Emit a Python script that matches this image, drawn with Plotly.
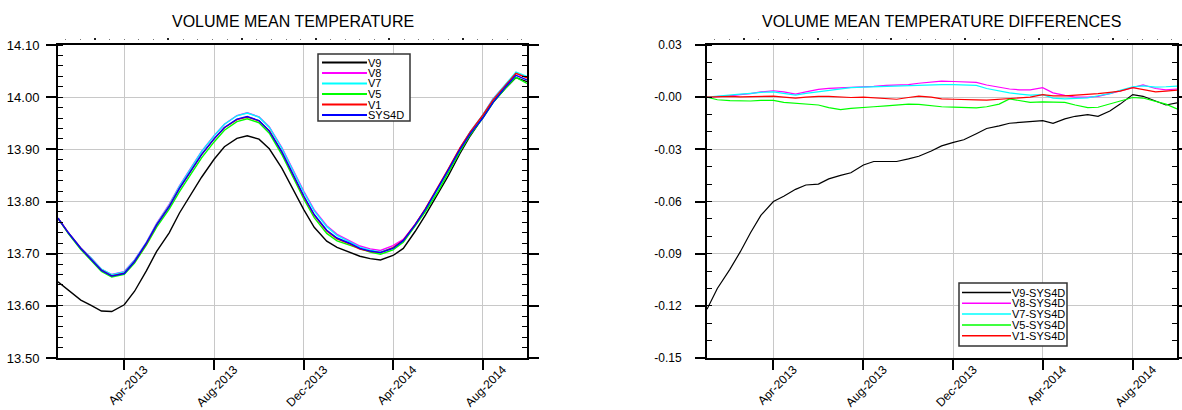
import plotly.graph_objects as go

# ---------------- data ----------------
dates = [
    "2013-01-01", "2013-01-15", "2013-02-01", "2013-02-15", "2013-03-01", "2013-03-15",
    "2013-04-01", "2013-04-15", "2013-05-01", "2013-05-15", "2013-06-01", "2013-06-15",
    "2013-07-01", "2013-07-15", "2013-08-01", "2013-08-15", "2013-09-01", "2013-09-15",
    "2013-10-01", "2013-10-15", "2013-11-01", "2013-11-15", "2013-12-01", "2013-12-15",
    "2014-01-01", "2014-01-15", "2014-02-01", "2014-02-15", "2014-03-01", "2014-03-15",
    "2014-04-01", "2014-04-15", "2014-05-01", "2014-05-15", "2014-06-01", "2014-06-15",
    "2014-07-01", "2014-07-15", "2014-08-01", "2014-08-15", "2014-09-01", "2014-09-15",
    "2014-09-30",
]

sys4d = [
    13.768, 13.740, 13.710, 13.690, 13.668, 13.657,
    13.662, 13.685, 13.720, 13.755, 13.790, 13.825,
    13.860, 13.890, 13.920, 13.942, 13.958, 13.963,
    13.955, 13.935, 13.895, 13.855, 13.810, 13.775,
    13.745, 13.730, 13.720, 13.710, 13.705, 13.702,
    13.710, 13.725, 13.755, 13.785, 13.825, 13.860,
    13.900, 13.930, 13.960, 13.990, 14.020, 14.042,
    14.033,
]

diff_v9 = [
    -0.122, -0.110, -0.099, -0.089, -0.078, -0.068,
    -0.060, -0.057, -0.053, -0.0505, -0.050, -0.047,
    -0.045, -0.0435, -0.039, -0.037, -0.037, -0.037,
    -0.0355, -0.034, -0.031, -0.028, -0.026, -0.0245,
    -0.021, -0.018, -0.0165, -0.015, -0.0145, -0.014,
    -0.0135, -0.015, -0.0125, -0.011, -0.010, -0.011,
    -0.008, -0.004, 0.0015, 0.0005, -0.0025, -0.0045,
    -0.0033,
]
diff_v8 = [
    0.0, 0.0003, 0.0008, 0.0015, 0.0020, 0.0030,
    0.0037, 0.0030, 0.0018, 0.0030, 0.0045, 0.0050,
    0.0052, 0.0058, 0.0060, 0.0062, 0.0068, 0.0070,
    0.0072, 0.0080, 0.0085, 0.0092, 0.0090, 0.0088,
    0.0085, 0.0070, 0.0055, 0.0047, 0.0042, 0.0042,
    0.0055, 0.0025, 0.0010, 0.0000, 0.0000, 0.0005,
    0.0020, 0.0035, 0.0055, 0.0070, 0.0050, 0.0042,
    0.0047,
]
diff_v7 = [
    0.0, 0.0004, 0.0010, 0.0017, 0.0022, 0.0028,
    0.0030, 0.0022, 0.0012, 0.0022, 0.0030, 0.0038,
    0.0045, 0.0055, 0.0058, 0.0060, 0.0063, 0.0065,
    0.0067, 0.0070, 0.0070, 0.0072, 0.0072, 0.0070,
    0.0068, 0.0050, 0.0035, 0.0025, 0.0018, 0.0012,
    0.0015, -0.0005, -0.0010, -0.0008, -0.0004, 0.0008,
    0.0020, 0.0040, 0.0060, 0.0065, 0.0058, 0.0060,
    0.0064,
]
diff_v5 = [
    0.0, -0.0015, -0.0020, -0.0022, -0.0022, -0.0018,
    -0.0018, -0.0030, -0.0035, -0.0040, -0.0045, -0.0060,
    -0.0072, -0.0065, -0.0058, -0.0055, -0.0050, -0.0045,
    -0.0040, -0.0042, -0.0050, -0.0055, -0.0057, -0.0060,
    -0.0062, -0.0055, -0.0040, -0.0010, -0.0020, -0.0030,
    -0.0027, -0.0030, -0.0030, -0.0045, -0.0060, -0.0058,
    -0.0040, -0.0020, -0.0002, -0.0005, -0.0025, -0.0040,
    -0.0068,
]
diff_v1 = [
    0.0, 0.0002, 0.0004, 0.0002, 0.0003, 0.0005,
    0.0006, 0.0000, -0.0006, 0.0000, 0.0005, 0.0004,
    0.0000, -0.0002, 0.0000, -0.0005, -0.0010, -0.0012,
    -0.0002, 0.0006, 0.0000, -0.0010, -0.0012, -0.0012,
    -0.0015, -0.0017, -0.0012, -0.0010, -0.0005, 0.0000,
    0.0015, 0.0008, 0.0008, 0.0012, 0.0015, 0.0020,
    0.0028, 0.0035, 0.0055, 0.0045, 0.0030, 0.0035,
    0.0040,
]

left_names = ["V9", "V8", "V7", "V5", "V1", "SYS4D"]
right_names = ["V9-SYS4D", "V8-SYS4D", "V7-SYS4D", "V5-SYS4D", "V1-SYS4D"]
colors = ["#000000", "#ff00ff", "#00ffff", "#00ff00", "#ff0000", "#0000ff"]

x_tick_vals = ["2013-04-01", "2013-08-01", "2013-12-01", "2014-04-01", "2014-08-01"]
x_tick_text = ["Apr-2013", "Aug-2013", "Dec-2013", "Apr-2014", "Aug-2014"]
right_tick_vals = [0.03, 0.0, -0.03, -0.06, -0.09, -0.12, -0.15]
right_tick_text = ["0.03", "-0.00", "-0.03", "-0.06", "-0.09", "-0.12", "-0.15"]

# ---------------- derived series ----------------
diffs = [diff_v9, diff_v8, diff_v7, diff_v5, diff_v1]
left_series = [[s + d for s, d in zip(sys4d, dd)] for dd in diffs] + [sys4d]

# ---------------- layout geometry ----------------
W, H = 1182, 410
FONT = "Liberation Sans, Arial, Helvetica, sans-serif"


def fx(p):
    return p / W


def fy(p):
    return 1 - p / H


L_DOM = [fx(58), fx(527)]
R_DOM = [fx(707), fx(1177)]
Y_DOM = [fy(358), fy(45)]
X_RANGE = ["2013-01-01", "2014-09-30"]
DAY_MS = 86400000

fig = go.Figure()

for name, vals, col in zip(left_names, left_series, colors):
    fig.add_trace(go.Scatter(x=dates, y=vals, mode="lines", name=name,
                             line=dict(color=col, width=1.4),
                             xaxis="x", yaxis="y", showlegend=False))
for name, vals, col in zip(right_names, diffs, colors):
    fig.add_trace(go.Scatter(x=dates, y=vals, mode="lines", name=name,
                             line=dict(color=col, width=1.2),
                             xaxis="x2", yaxis="y2", showlegend=False))

# empty helper traces so the dotted top time axes get drawn
fig.add_trace(go.Scatter(x=[X_RANGE[0]], y=[None], mode="lines", xaxis="x3", yaxis="y",
                         showlegend=False, hoverinfo="skip"))
fig.add_trace(go.Scatter(x=[X_RANGE[0]], y=[None], mode="lines", xaxis="x4", yaxis="y2",
                         showlegend=False, hoverinfo="skip"))

common_x = dict(
    type="date", range=X_RANGE, tickmode="array", tickvals=x_tick_vals,
    ticktext=x_tick_text, tickangle=-45, ticks="outside", ticklen=10,
    tickwidth=1.5, tickcolor="black", showline=True, linewidth=2,
    linecolor="black", mirror=True, showgrid=True, gridcolor="#c8c8c8",
    gridwidth=1, zeroline=False, tickfont=dict(family=FONT, size=12, color="black"),
    ticklabelshift=20, ticklabelstandoff=-12, automargin=False,
)
common_y = dict(
    ticks="outside", ticklen=10, tickwidth=1.5, tickcolor="black",
    showline=True, linewidth=2, linecolor="black", mirror="ticks",
    showgrid=True, gridcolor="#c8c8c8", gridwidth=1, zeroline=False, automargin=False,
)
dots = dict(
    type="date", range=X_RANGE, anchor="free", position=fy(40), side="top",
    showline=False, showgrid=False, zeroline=False, showticklabels=False,
    ticks="outside", tickmode="linear", tick0="2013-02-20", dtick=100 * DAY_MS,
    ticklen=2, tickwidth=2, tickcolor="#222222", automargin=False,
    minor=dict(ticks="outside", tickmode="linear", tick0="2013-02-20",
               dtick=20 * DAY_MS, ticklen=1.5, tickwidth=1, tickcolor="#777777",
               showgrid=False),
)

fig.update_layout(
    width=W, height=H, autosize=False,
    margin=dict(l=0, r=0, t=0, b=0, pad=0, autoexpand=False),
    paper_bgcolor="white", plot_bgcolor="white",
    showlegend=False,
    xaxis=dict(domain=L_DOM, anchor="y", **common_x),
    yaxis=dict(domain=Y_DOM, anchor="x", range=[13.5, 14.1], tickmode="linear",
               tick0=13.5, dtick=0.1, tickformat=".2f", ticklabelstandoff=4,
               tickfont=dict(family=FONT, size=13, color="black"),
               minor=dict(ticks="inside", ticklen=5, tickwidth=1.2, tickcolor="black",
                          tickmode="linear", tick0=13.5, dtick=0.02, showgrid=False),
               **common_y),
    xaxis2=dict(domain=R_DOM, anchor="y2", **common_x),
    yaxis2=dict(domain=Y_DOM, anchor="x2", range=[-0.15, 0.03], tickmode="array",
                tickvals=right_tick_vals, ticktext=right_tick_text,
                ticklabelstandoff=11,
                tickfont=dict(family=FONT, size=12, color="black"),
                minor=dict(ticks="inside", ticklen=5, tickwidth=1.2, tickcolor="black",
                           tickmode="linear", tick0=-0.15, dtick=0.01, showgrid=False),
                **common_y),
    xaxis3=dict(overlaying="x", domain=L_DOM, **dots),
    xaxis4=dict(overlaying="x2", domain=R_DOM, **dots),
)

# titles
fig.add_annotation(text="VOLUME MEAN TEMPERATURE", x=fx((58 + 527) / 2), y=fy(21),
                   xref="paper", yref="paper", showarrow=False, xanchor="center",
                   yanchor="middle", font=dict(family=FONT, size=16, color="black"))
fig.add_annotation(text="VOLUME MEAN TEMPERATURE DIFFERENCES", x=fx((707 + 1177) / 2),
                   y=fy(21), xref="paper", yref="paper", showarrow=False,
                   xanchor="center", yanchor="middle",
                   font=dict(family=FONT, size=16, color="black"))


# legends (drawn as boxes with sample lines and labels)
def draw_legend(names, cols, box, line_x, text_x, y0, step, fsize, lw):
    fig.add_shape(type="rect", xref="paper", yref="paper",
                  x0=fx(box[0]), x1=fx(box[2]), y0=fy(box[3]), y1=fy(box[1]),
                  line=dict(color="#333333", width=1.5), fillcolor="white", layer="above")
    for i, (n, c) in enumerate(zip(names, cols)):
        yy = y0 + i * step
        fig.add_shape(type="line", xref="paper", yref="paper",
                      x0=fx(line_x[0]), x1=fx(line_x[1]), y0=fy(yy), y1=fy(yy),
                      line=dict(color=c, width=lw), layer="above")
        fig.add_annotation(text=n, x=fx(text_x), y=fy(yy), xref="paper", yref="paper",
                           showarrow=False, xanchor="left", yanchor="middle", borderpad=0,
                           font=dict(family=FONT, size=fsize, color="black"))


draw_legend(left_names, colors, (318, 54, 410, 121), (322, 367), 367, 62.5, 10.5, 11, 2)
draw_legend(right_names, colors, (959, 283, 1067, 346), (962, 1011), 1011, 292.5, 10.8, 11, 1.5)

fig.write_html("out.html")
